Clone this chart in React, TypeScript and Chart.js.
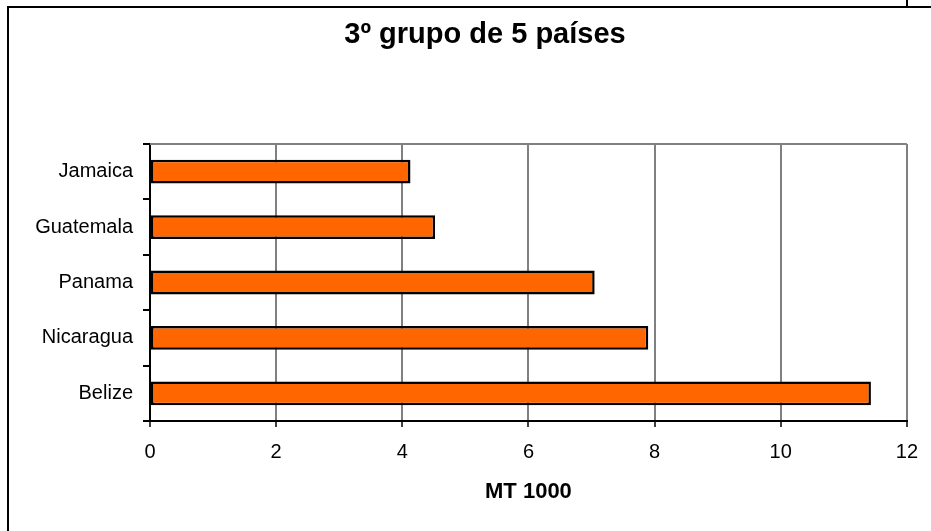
import React, { useEffect, useRef } from "react";
import { Chart, registerables } from "chart.js";

Chart.register(...registerables);

const TITLE = "3º grupo de 5 países";
const X_TITLE = "MT 1000";
const countries = ["Jamaica", "Guatemala", "Panama", "Nicaragua", "Belize"];
const values = [4.13, 4.52, 7.05, 7.9, 11.43];
const xTicks = [0, 2, 4, 6, 8, 10, 12];

const FONT = "'Liberation Sans', Arial, sans-serif";

const frameTitle = {
  id: "frameTitle",
  beforeDatasetsDraw(chart: any) {
    const { ctx, chartArea } = chart;
    ctx.save();
    ctx.strokeStyle = "#808080";
    ctx.lineWidth = 2;
    ctx.beginPath();
    ctx.moveTo(chartArea.left, chartArea.top);
    ctx.lineTo(chartArea.right, chartArea.top);
    ctx.stroke();
    ctx.restore();
  },
  afterDraw(chart: any) {
    const { ctx } = chart;
    ctx.save();
    ctx.fillStyle = "#000";
    ctx.font = `bold 29px ${FONT}`;
    ctx.textAlign = "center";
    ctx.textBaseline = "middle";
    ctx.fillText(TITLE, 485, 35);
    ctx.restore();
  },
};

export default function App() {
  const ref = useRef<HTMLCanvasElement | null>(null);
  useEffect(() => {
    if (!ref.current) return;
    const chart = new Chart(ref.current, {
      type: "bar",
      data: {
        labels: countries,
        datasets: [
          {
            data: values,
            backgroundColor: "#FF6600",
            borderColor: "#000000",
            borderWidth: 2.5,
            borderSkipped: false,
            barPercentage: 0.43,
            categoryPercentage: 1,
          },
        ],
      },
      options: {
        indexAxis: "y",
        animation: false,
        responsive: true,
        maintainAspectRatio: false,
        layout: { padding: { top: 144, right: 17, left: 0, bottom: 0 } },
        plugins: {
          legend: { display: false },
          title: { display: false },
          tooltip: { enabled: false },
        },
        scales: {
          x: {
            type: "linear",
            min: 0,
            max: 12,
            afterBuildTicks: (scale: any) => {
              scale.ticks = xTicks.map((v) => ({ value: v }));
            },
            afterFit: (scale: any) => {
              scale.height = 110;
            },
            ticks: {
              color: "#000",
              font: { family: FONT, size: 20 },
              padding: 13,
              maxRotation: 0,
            },
            grid: {
              color: "#808080",
              lineWidth: 2,
              tickLength: 6,
              tickColor: "#404040",
            },
            border: { color: "#000", width: 2 },
            title: {
              display: true,
              text: X_TITLE,
              color: "#000",
              font: { family: FONT, size: 22, weight: "bold" },
              padding: { top: 0, bottom: 26 },
            },
          },
          y: {
            afterFit: (scale: any) => {
              scale.width = 150;
            },
            ticks: {
              color: "#000",
              font: { family: FONT, size: 20 },
              padding: 10,
            },
            grid: {
              drawOnChartArea: false,
              drawTicks: true,
              tickLength: 7,
              tickColor: "#000",
              lineWidth: 2,
              offset: true,
            },
            border: { color: "#000", width: 2 },
          },
        },
      },
      plugins: [frameTitle],
    } as any);
    return () => chart.destroy();
  }, []);

  return (
    <div
      style={{
        position: "fixed",
        left: 0,
        top: 0,
        width: 931,
        height: 531,
        overflow: "hidden",
        background: "#fff",
      }}
    >
      <div
        style={{
          position: "absolute",
          left: 7,
          top: 6,
          width: 1000,
          height: 700,
          border: "2px solid #000",
        }}
      />
      <div
        style={{
          position: "absolute",
          left: 906,
          top: 0,
          width: 2,
          height: 7,
          background: "#000",
        }}
      />
      <div style={{ position: "absolute", left: 0, top: 0, width: 931, height: 531 }}>
        <canvas ref={ref} />
      </div>
    </div>
  );
}
